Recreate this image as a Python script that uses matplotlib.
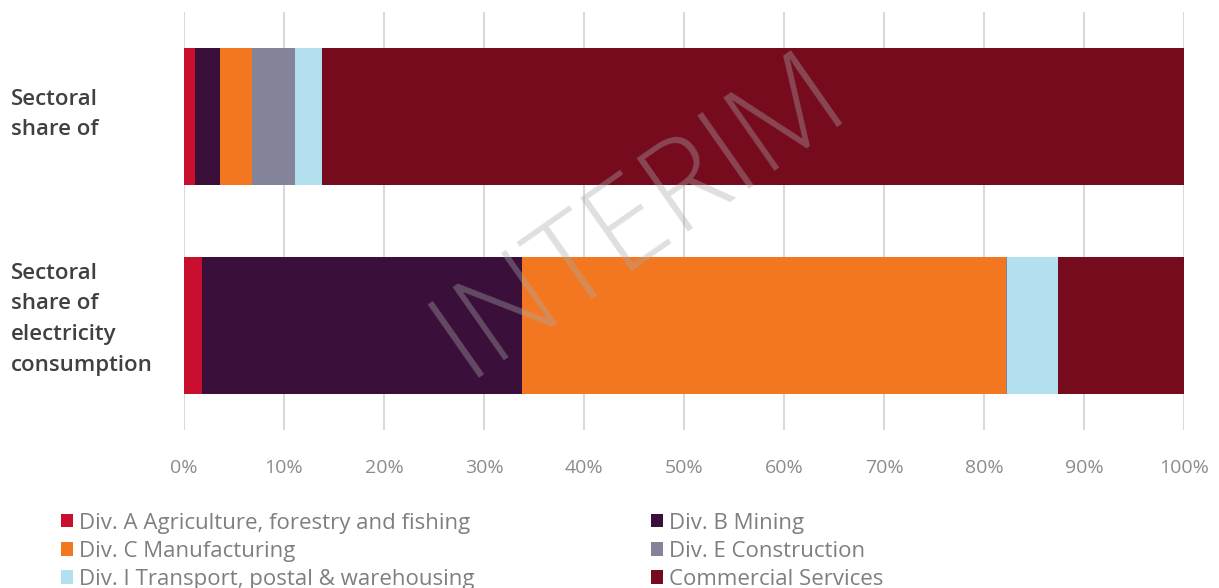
import matplotlib.pyplot as plt
from matplotlib.transforms import blended_transform_factory

plt.rcParams['font.family'] = ['Open Sans', 'DejaVu Sans']

# Sector names and colours for the stacked bars
sectors = [
    "Div. A Agriculture, forestry and fishing",
    "Div. B Mining",
    "Div. C Manufacturing",
    "Div. E Construction",
    "Div. I Transport, postal & warehousing",
    "Commercial Services",
]
colors = ["#C8102E", "#3A0F3A", "#F37721", "#838399", "#B3E0EE", "#760B1E"]

# Row labels (top to bottom) and the shares in %
row_labels = ["Sectoral\nshare of", "Sectoral\nshare of\nelectricity\nconsumption"]
share_top = [1.1, 2.5, 3.2, 4.3, 2.7, 86.2]
share_elec = [1.8, 32.0, 48.4, 0.1, 5.1, 12.6]

fig = plt.figure(figsize=(12.19, 5.88), dpi=100)
ax = fig.add_axes([184 / 1219, 1 - 430 / 588, 1000 / 1219, 418 / 588])

rows = [share_top, share_elec]
for i, name in enumerate(sectors):
    left = [sum(r[:i]) for r in rows]
    vals = [r[i] for r in rows]
    ax.barh([0, 1], vals, left=left, height=0.66, color=colors[i], label=name, zorder=2)

ax.set_xlim(0, 100)
ax.set_ylim(1.5, -0.5)
ax.set_xticks(range(0, 101, 10))
ax.set_xticklabels([f"{v}%" for v in range(0, 101, 10)])
ax.grid(axis="x", color="#d9d9d9", linewidth=1.5, zorder=0)
for s in ax.spines.values():
    s.set_visible(False)
ax.tick_params(axis="x", length=0, pad=21, labelsize=14, labelcolor="#8c8c8c")
ax.set_yticks([0, 1])
ax.set_yticklabels([])
ax.tick_params(axis="y", length=0)

# row labels, left-aligned at the figure edge
tr = blended_transform_factory(fig.transFigure, ax.transData)
for y, off, lab in zip([0, 1], [-0.01, -0.03], row_labels):
    ax.text(11 / 1219, y + off, lab, transform=tr, ha="left", va="center",
            fontsize=16, fontweight="semibold", color="#404040", linespacing=1.6)

# watermark
ax.text(640, 588 - 216, "INTERIM", transform=None, fontsize=90, fontweight="light",
        color="#aaaaaa", alpha=0.38, rotation=35, ha="center", va="center",
        rotation_mode="anchor", zorder=5)

# legend filled row by row, two columns
handles, labels = ax.get_legend_handles_labels()
order = [0, 2, 4, 1, 3, 5]
fig.legend([handles[k] for k in order], [labels[k] for k in order], ncol=2,
           loc="upper left", bbox_to_anchor=(45 / 1219, 1 - 497 / 588), frameon=False,
           fontsize=16, labelcolor="#7f7f7f", handlelength=0.55, handleheight=0.55,
           handletextpad=0.3, columnspacing=7.9, labelspacing=0.32, borderpad=0.2)

fig.savefig("out.png", dpi=100)
